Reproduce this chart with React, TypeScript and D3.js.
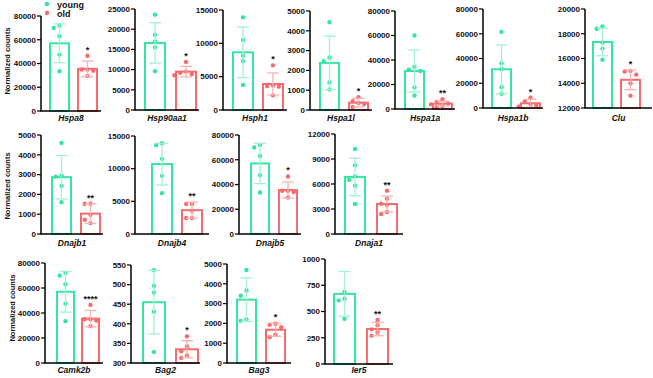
import React from "react";
import * as d3 from "d3";

const genes = ["Hspa8","Hsp90aa1","Hsph1","Hspa1l","Hspa1a","Hspa1b","Clu","Dnajb1","Dnajb4","Dnajb5","Dnaja1","Camk2b","Bag2","Bag3","Ier5"];
const groups = ["young", "old"];
const yMin = [0,0,0,0,0,0,12000,0,0,0,0,0,300,0,0];
const yMax = [80000,25000,15000,5000,80000,80000,20000,5000,15000,80000,12000,80000,550,5000,1000];
const yStep = [20000,5000,5000,1000,20000,20000,2000,1000,5000,20000,3000,20000,50,1000,250];

const youngMean = [57000,16600,8650,2380,31000,31300,17330,2870,10700,57000,6850,57000,455,3200,668];
const youngSD = [16300,5000,3800,1350,17000,19700,1110,1100,3200,16300,2250,16300,81,1100,213];
const oldMean = [35500,9500,3900,370,4300,3800,14280,1030,3650,35500,3600,35500,335,1680,333];
const oldSD = [6600,1300,1650,220,2000,3200,800,500,1250,6600,950,6600,22,330,64];

const youngDots = [
  [72000,70000,63000,47500,33500],
  [23600,18600,16900,15500,9600],
  [13900,10500,8150,7350,3750],
  [4430,2650,2470,1390,1040],
  [60000,34500,32000,31000,17500,11000],
  [61500,36100,31600,16800,11500],
  [18600,18400,17300,16800,15900],
  [4600,2950,2900,2430,1600],
  [13900,13600,11500,8900,6250],
  [72000,70000,63000,47500,33500],
  [10200,8240,6900,6500,5800,3600],
  [72000,70000,63000,47500,33500],
  [537,497,480,431,328],
  [4700,3660,3400,2200,2130],
  [686,622,606,430],
];
const oldDots = [
  [46500,35000,35000,34000,29500],
  [11900,9500,9200,8900,8600],
  [6700,3700,3600,3500,2200],
  [650,450,350,300,150],
  [8000,5800,4500,3800,2500,1500],
  [8300,5300,3200,1900,1100],
  [15000,14950,14700,14000,13000],
  [1530,1530,970,720,550],
  [4600,4600,3560,2440,2440],
  [46500,35000,35000,34000,29500],
  [5200,4240,3640,3500,2640,2400],
  [46500,35000,35000,34000,29500],
  [368,342,330,319,313],
  [1980,1930,1810,1430,1300],
  [420,370,330,300,270],
];
const stars = ["*","*","*","*","**","*","*","**","**","*","**","****","*","*","**"];

// layout (positions, not data)
const rowOf = [0,0,0,0,0,0,0,1,1,1,1,2,2,2,2];
const axisX = [41,135,223,310,395,483,585,41,135,239,335,45,131,227,325];
const topY = [16,9,10,11,11,9,9,135,136,135,134,263,265,264,259];
const botY = [111,110,110,110,109,108,108,234,234,234,234,363,363,363,364];
const axisLen = [60,64,64,62,60,60,67,62,74,62,68,58,69,64,68];
const youngOff = [9,10,10,10,10,9,8,11,17,12,10,12,12,10,9];
const oldOff = [37,41,40,39,38,38,36,40,47,40,42,37,45,39,42];
const barW = [19,20,20,19,19,19,19,19,20,18,20,17,22,19,21];
const labelY = [121,246,373];
const ylabPos = [[7,61],[7,186],[12,308]];

const GREEN = "#33e6a2";
const RED = "#f86b6d";
const GREEN_L = "#a3f2d4";
const RED_L = "#fbb2b3";
const FONT = "'Liberation Sans', Arial, sans-serif";

function swarm(vals: number[], y: (v: number) => number, cx: number, r: number) {
  const placed: { x: number; y: number }[] = [];
  const step = 2 * r + 1.4;
  const order = [0, -1, 1, -2, 2, -3, 3];
  vals.forEach((v) => {
    const py = y(v);
    for (const k of order) {
      const px = cx + k * step;
      if (placed.every((p) => Math.hypot(p.x - px, p.y - py) >= 2 * r + 0.8)) {
        placed.push({ x: px, y: py });
        break;
      }
    }
  });
  return placed;
}

function Panel({ i }: { i: number }) {
  const y = d3.scaleLinear().domain([yMin[i], yMax[i]]).range([botY[i], topY[i]]);
  const ticks = d3.range(yMin[i], yMax[i] + yStep[i] / 2, yStep[i]);
  const x0 = axisX[i];
  const groupsData = [
    { mean: youngMean[i], sd: youngSD[i], dots: youngDots[i], off: youngOff[i], c: GREEN, cl: GREEN_L },
    { mean: oldMean[i], sd: oldSD[i], dots: oldDots[i], off: oldOff[i], c: RED, cl: RED_L },
  ];
  const r = 2.2;
  const oldTop = Math.min(y(d3.max(oldDots[i]) as number), y(oldMean[i] + oldSD[i]));
  const oldCx = x0 + oldOff[i] + barW[i] / 2;
  return (
    <g>
      {groupsData.map((g, k) => {
        const bx = x0 + g.off;
        const cx = bx + barW[i] / 2;
        const pts = swarm(g.dots, y, cx, r);
        const hi = y(Math.min(g.mean + g.sd, yMax[i]));
        const lo = y(Math.max(g.mean - g.sd, yMin[i]));
        return (
          <g key={groups[k]}>
            <rect x={bx} y={y(g.mean)} width={barW[i]} height={botY[i] - y(g.mean)} fill="none" stroke={g.c} strokeWidth={2} />
            {pts.map((p, j) => (
              <circle key={j} cx={p.x} cy={p.y} r={r} fill={g.c} />
            ))}
            <line x1={cx} x2={cx} y1={hi} y2={lo} stroke={g.cl} strokeWidth={1.3} />
            <line x1={cx - 6} x2={cx + 6} y1={hi} y2={hi} stroke={g.cl} strokeWidth={1.3} />
            <line x1={cx - 6} x2={cx + 6} y1={lo} y2={lo} stroke={g.cl} strokeWidth={1.3} />
          </g>
        );
      })}
      <line x1={x0} x2={x0} y1={topY[i]} y2={botY[i]} stroke="#000" strokeWidth={1.5} />
      <line x1={x0 - 0.75} x2={x0 + axisLen[i]} y1={botY[i]} y2={botY[i]} stroke="#000" strokeWidth={1.5} />
      {ticks.map((t) => (
        <g key={t}>
          <line x1={x0 - 4} x2={x0} y1={y(t)} y2={y(t)} stroke="#000" strokeWidth={1.2} />
          <text x={x0 - 5} y={y(t)} dy="0.35em" textAnchor="end" fontSize={8} fontWeight="bold" fontFamily={FONT} fill="#111">{t}</text>
        </g>
      ))}
      <text x={oldCx} y={oldTop - 3} textAnchor="middle" fontSize={9} fontWeight="bold" fontFamily={FONT} fill="#111">{stars[i]}</text>
      <text x={x0 + axisLen[i] / 2} y={labelY[rowOf[i]]} textAnchor="middle" fontSize={8.5} fontWeight="bold" fontStyle="italic" fontFamily={FONT} fill="#111">{genes[i]}</text>
    </g>
  );
}

export default function App() {
  return (
    <svg width={653} height={378} style={{ position: "absolute", left: 0, top: 0, background: "#fff" }}>
      {genes.map((_, i) => (
        <Panel key={i} i={i} />
      ))}
      {ylabPos.map(([x, cy], k) => (
        <text key={k} transform={`translate(${x},${cy}) rotate(-90)`} dy="0.35em" textAnchor="middle" fontSize={7.5} fontWeight="bold" fontFamily={FONT} fill="#111">Normalized counts</text>
      ))}
      <circle cx={47} cy={4} r={2.2} fill={GREEN} />
      <text x={57} y={7.5} fontSize={9} fontWeight="bold" fontFamily={FONT} fill="#111">{groups[0]}</text>
      <circle cx={47} cy={13} r={2.2} fill={RED} />
      <text x={57} y={16.5} fontSize={9} fontWeight="bold" fontFamily={FONT} fill="#111">{groups[1]}</text>
    </svg>
  );
}
